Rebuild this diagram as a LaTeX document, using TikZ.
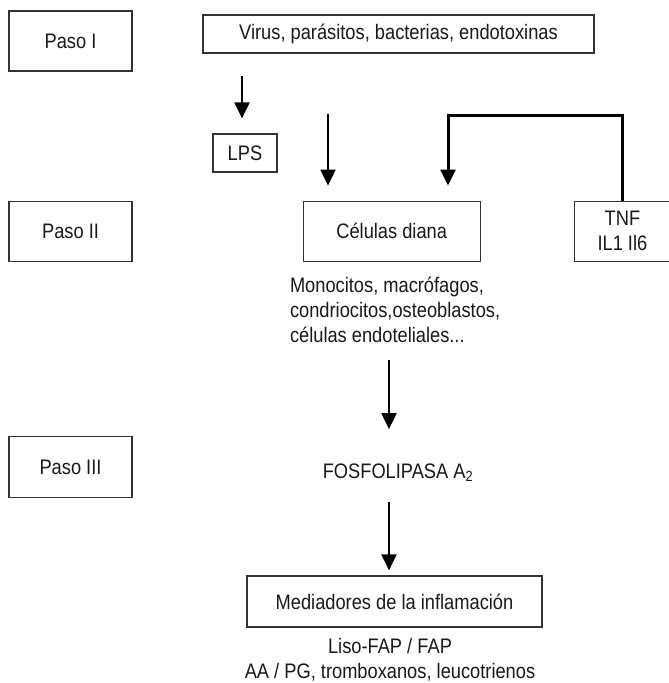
\documentclass[tikz,border=0pt]{standalone}
\usepackage{fontspec}
\setmainfont[FakeStretch=0.87]{Liberation Sans}
\usetikzlibrary{arrows.meta, positioning}

\begin{document}
\begin{tikzpicture}[x=1pt, y=-1pt, ->, >={Triangle[width=15pt,length=16pt]}, line width=2pt,
    font=\fontsize{21}{25}\selectfont, text=black!90, inner sep=0pt,
    caja/.style={draw=black!80, line width=1.2pt, minimum height=60pt},
    paso/.style={caja, minimum width=123pt}]
	\useasboundingbox (0,0) rectangle (669,683);
	\node[paso] (pasoI) at (70.5,41) {Paso I};
	\node[paso] (pasoII) [below=129pt of pasoI] {Paso II};
	\node[paso, minimum height=61pt] (pasoIII) [below=174pt of pasoII] {Paso III};
	
	\node[caja, minimum width=391pt, minimum height=38pt] (virus) at (398.5,34) {Virus, parásitos, bacterias, endotoxinas};
	\node[caja, minimum width=64pt, minimum height=38pt] (lps) at (245,153) {LPS};
	\node[caja, minimum width=177pt] (celulas) [right=170pt of pasoII] {Células diana};
	\node[caja, minimum width=96pt, align=center] (tnf) [right=93pt of celulas] {TNF\\IL1 Il6};
	\node[align=left, anchor=north west] (mono) at (289,276) {Monocitos, macrófagos,\\condriocitos,osteoblastos,\\células endoteliales...};
	\node (fosfo) at (398,473) {FOSFOLIPASA A\textsubscript{2}};
	\node[caja, minimum width=295pt, minimum height=51pt] (med) at (394.5,601.5) {Mediadores de la inflamación};
	\node[align=center] (liso) at (390,660) {Liso-FAP / FAP\\AA / PG, tromboxanos, leucotrienos};
	
	\coordinate (gramneg) at (242,76);
	\coordinate (directo) at (328,114);
	\coordinate (codo) at (448,115);
	\coordinate (eje) at (389,360);
	
	\path
	(gramneg) edge[shorten >=15pt] (gramneg |- lps.north)
	(directo) edge[shorten >=15pt] (directo |- celulas.north)
	(eje) edge[shorten >=34pt] (eje |- fosfo.north)
	(fosfo.south -| eje) edge[shorten <=19pt, shorten >=5pt] (med.north -| eje);
	\draw[line width=3pt, shorten >=15pt] (tnf.north) |- (codo) -- (codo |- celulas.north);
\end{tikzpicture}
\end{document}
